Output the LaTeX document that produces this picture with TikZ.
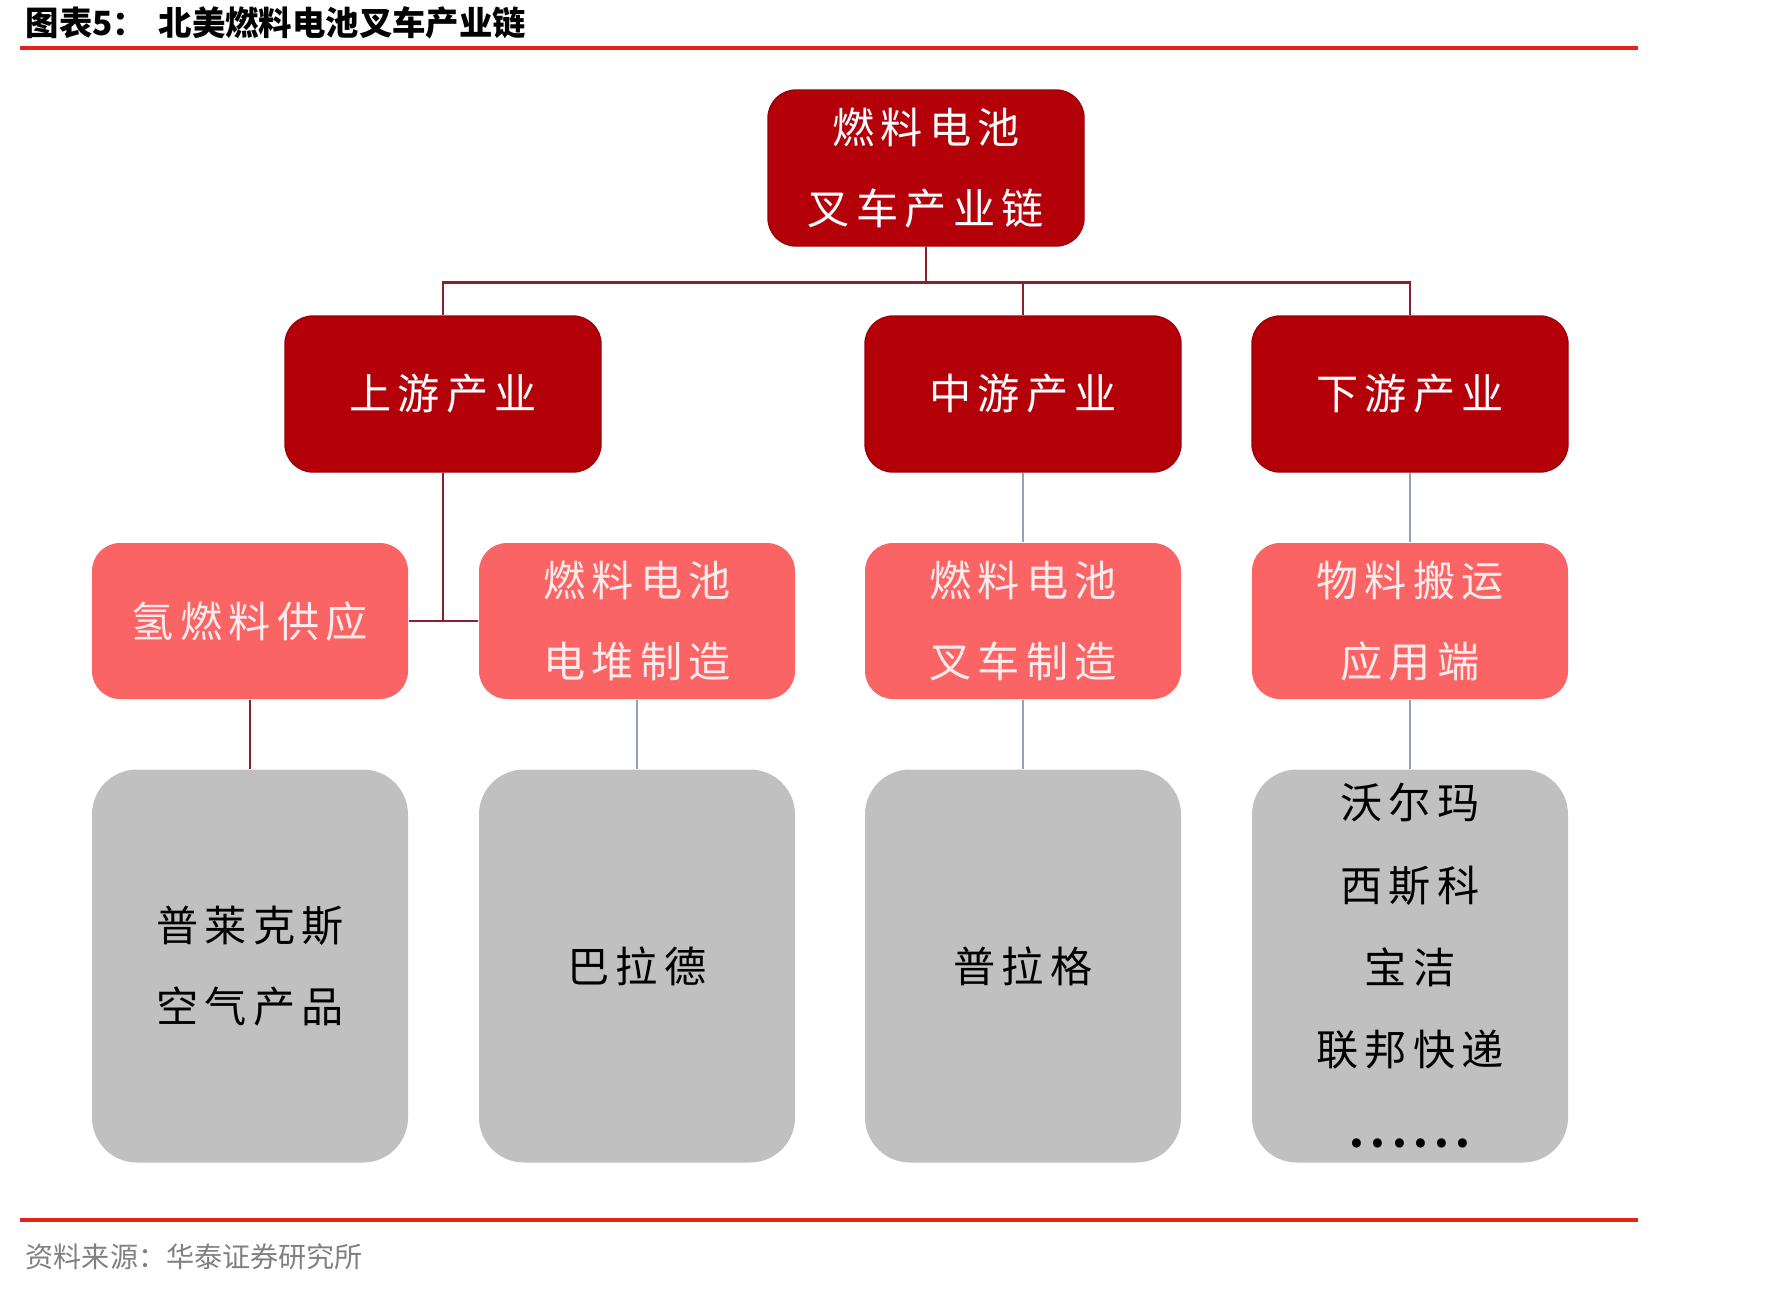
\documentclass[tikz,border=0pt]{standalone}
\usepackage{fontspec}
\usetikzlibrary{positioning}
\newfontfamily\cjk{Noto Sans CJK SC}
\newfontfamily\cjkbox[LetterSpace=15]{Noto Sans CJK SC}
\definecolor{darkred}{RGB}{180,0,8}
\definecolor{pinkbox}{RGB}{250,100,100}
\definecolor{graybox}{RGB}{192,192,192}
\definecolor{linkred}{RGB}{140,30,45}
\definecolor{linkgray}{RGB}{150,160,182}
\definecolor{rulered}{RGB}{230,35,25}
\tikzset{
  chainbox/.style={rounded corners=2.8mm, align=center, minimum width=31.6mm,
    minimum height=15.6mm, font=\cjkbox\fontsize{12}{23}\selectfont},
  stagebox/.style={chainbox, fill=darkred, draw=darkred!85!black, text=white},
  partbox/.style={chainbox, fill=pinkbox, text=red!8},
  firmbox/.style={chainbox, rounded corners=4.5mm, minimum height=39.3mm, fill=graybox, text=black},
  redlink/.style={draw=linkred, line width=0.8pt},
  graylink/.style={draw=linkgray, line width=0.8pt},
  plaintext/.style={anchor=west, inner sep=0pt}
}
\begin{document}
\begin{tikzpicture}[x=0.1mm, y=-0.1mm]
    \useasboundingbox (0,0) rectangle (1771,1288);
    \node [plaintext, font=\cjk\bfseries\fontsize{9.5}{11}\selectfont] (figno) at (25,23) {图表5：};
    \node [plaintext, font=\cjk\bfseries\fontsize{9.5}{11}\selectfont] (title) at (158,23) {北美燃料电池叉车产业链};
    \draw [rulered, line width=0.9pt] (20,48) -- (1638,48);

    \node [stagebox] (chain) at (926,168) {燃料电池\\叉车产业链};
    \node [stagebox] (up) at (443,394) {上游产业};
    \node [stagebox] (mid) at (1023,394) {中游产业};
    \node [stagebox] (down) at (1410,394) {下游产业};

    \node [partbox] (hydro) at (250,621) {氢燃料供应};
    \node [partbox] (stack) at (637,621) {燃料电池\\电堆制造};
    \node [partbox] (truck) at (1023,621) {燃料电池\\叉车制造};
    \node [partbox] (handling) at (1410,621) {物料搬运\\应用端};

    \node [firmbox] (plug) at (250,966) {普莱克斯\\空气产品};
    \node [firmbox] (ballard) at (637,966) {巴拉德};
    \node [firmbox] (pluggy) at (1023,966) {普拉格};
    \node [firmbox, font=\cjkbox\fontsize{12}{23.4}\selectfont] (users) at (1410,966) {沃尔玛\\西斯科\\宝洁\\联邦快递\\{\bfseries ......}};

    \draw [redlink] (chain.south) -- ++(0,36) -| (up.north);
    \draw [redlink] (chain.south) -- ++(0,36) -| (mid.north);
    \draw [redlink] (chain.south) -- ++(0,36) -| (down.north);

    \draw [redlink] (up.south) -- (up.south |- hydro.east);
    \draw [redlink] (hydro.east) -- (stack.west);
    \draw [graylink] (mid) -- (truck);
    \draw [graylink] (down) -- (handling);

    \draw [redlink] (hydro) -- (plug);
    \draw [graylink] (stack) -- (ballard);
    \draw [graylink] (truck) -- (pluggy);
    \draw [graylink] (handling) -- (users);

    \draw [rulered, line width=0.9pt] (20,1220) -- (1638,1220);
    \node [plaintext, text=black!50, font=\cjk\fontsize{8}{10}\selectfont] (source) at (25,1257) {资料来源：华泰证券研究所};
\end{tikzpicture}
\end{document}
